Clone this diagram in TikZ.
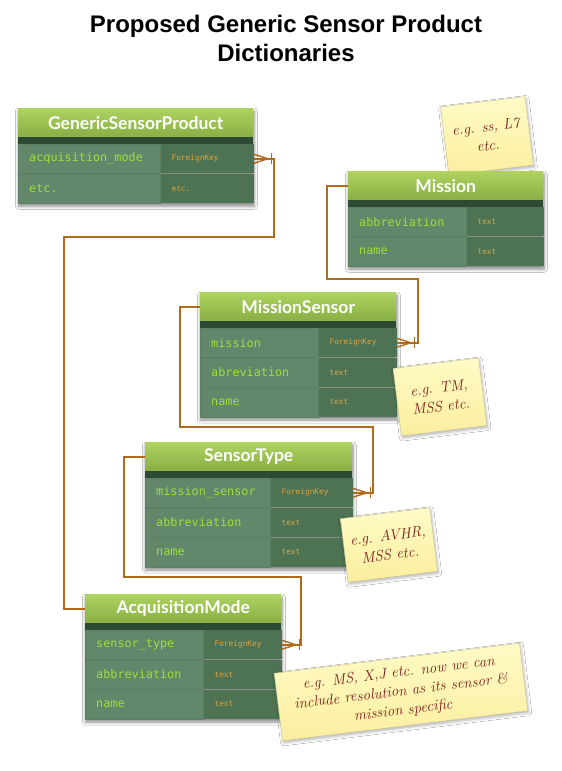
\documentclass[tikz,border=0pt]{standalone}
\usepackage{fontspec}
\setmonofont{DejaVu Sans Mono}
\newfontfamily\titlefont{Liberation Sans}
\newfontfamily\headfont{Lato}
\usetikzlibrary{shadows.blur,backgrounds}

\definecolor{hdtop}{HTML}{AED35F}
\definecolor{hdbot}{HTML}{88AE45}
\definecolor{band}{HTML}{2D4A34}
\definecolor{keyfill}{HTML}{62876B}
\definecolor{keyline}{HTML}{5C8065}
\definecolor{typefill}{HTML}{4D7353}
\definecolor{keytext}{HTML}{9CE03C}
\definecolor{typetext}{HTML}{D9A444}
\definecolor{link}{HTML}{B16B1D}
\definecolor{notetop}{HTML}{FFFBC6}
\definecolor{notebot}{HTML}{FAEE9E}
\definecolor{noteline}{HTML}{CFC79C}
\definecolor{notetext}{HTML}{7B1D1D}

\tikzset{
  tblhead/.style={anchor=north west, minimum height=29pt, inner sep=0pt,
    top color=hdtop, bottom color=hdbot, text=white,
    font=\headfont\bfseries\fontsize{17.5}{17.5}\selectfont},
  keycell/.style={anchor=north west, minimum height=29.3pt, inner xsep=11pt,
    inner ysep=0pt, fill=keyfill, draw=keyline, line width=0.4pt, text=keytext,
    align=left, font=\ttfamily\fontsize{11.8}{12}\selectfont},
  typecell/.style={anchor=north west, minimum height=29.3pt, inner xsep=11pt,
    inner ysep=0pt, fill=typefill, text=typetext,
    align=left, font=\ttfamily\fontsize{7.8}{8}\selectfont},
  conn/.style={draw=link, line width=1.7pt},
  tblshadow/.style={blur shadow={shadow xshift=0.5pt, shadow yshift=-3pt,
    shadow blur radius=3pt, shadow opacity=45}},
  note/.style={rotate=7, inner sep=0pt, top color=notetop, bottom color=notebot,
    draw=noteline, line width=0.5pt, text=notetext, align=center,
    font=\itshape\fontsize{15}{19}\selectfont,
    blur shadow={shadow xshift=1pt, shadow yshift=-2pt, shadow blur radius=3pt,
    shadow opacity=30}},
  crowfoot/.pic={
    \draw[conn, line width=1.4pt] (0,-4.5) -- (14,0) -- (0,4.5);
    \draw[conn, line width=1.4pt] (17.5,-5.5) -- (17.5,5.5);
  }
}

\begin{document}
\begin{tikzpicture}[x=1pt, y=-1pt]
  \useasboundingbox (0,0) rectangle (562,771);

  \node[font=\titlefont\bfseries\fontsize{24}{29}\selectfont, align=center]
    (title) at (286,38.5) {Proposed Generic Sensor Product\\Dictionaries};

  % GenericSensorProduct
  \node[tblhead, minimum width=235pt] (gsp) at (18,108) {GenericSensorProduct};
  \fill[band] (gsp.south west) rectangle ++(235,6.5);
  \node[keycell, text width=120pt] (gsp-k1) at ([yshift=-6.5pt]gsp.south west) {acquisition\_mode};
  \node[typecell, text width=71pt] (gsp-t1) at (gsp-k1.north east) {ForeignKey};
  \node[keycell, text width=120pt] (gsp-k2) at (gsp-k1.south west) {etc.};
  \node[typecell, text width=71pt] (gsp-t2) at (gsp-k2.north east) {etc.};

  % note behind Mission
  \node[note, minimum width=85pt, minimum height=69pt] (n-mission) at (487,136) {e.g. ss, L7\\etc.};

  % Mission
  \node[tblhead, minimum width=195pt] (mission) at (348,171) {Mission};
  \fill[band] (mission.south west) rectangle ++(195,6.5);
  \node[keycell, text width=96pt] (mission-k1) at ([yshift=-6.5pt]mission.south west) {abbreviation};
  \node[typecell, text width=55pt] (mission-t1) at (mission-k1.north east) {text};
  \node[keycell, text width=96pt] (mission-k2) at (mission-k1.south west) {name};
  \node[typecell, text width=55pt] (mission-t2) at (mission-k2.north east) {text};

  % MissionSensor
  \node[tblhead, minimum width=196pt] (ms) at (200,292) {MissionSensor};
  \fill[band] (ms.south west) rectangle ++(196,6.5);
  \node[keycell, text width=96pt] (ms-k1) at ([yshift=-6.5pt]ms.south west) {mission};
  \node[typecell, text width=56pt] (ms-t1) at (ms-k1.north east) {ForeignKey};
  \node[keycell, text width=96pt] (ms-k2) at (ms-k1.south west) {abreviation};
  \node[typecell, text width=56pt] (ms-t2) at (ms-k2.north east) {text};
  \node[keycell, text width=96pt] (ms-k3) at (ms-k2.south west) {name};
  \node[typecell, text width=56pt] (ms-t3) at (ms-k3.north east) {text};

  % SensorType
  \node[tblhead, minimum width=207pt] (st) at (145,442) {SensorType};
  \fill[band] (st.south west) rectangle ++(207,6.5);
  \node[keycell, text width=103pt] (st-k1) at ([yshift=-6.5pt]st.south west) {mission\_sensor};
  \node[typecell, text width=60pt] (st-t1) at (st-k1.north east) {ForeignKey};
  \node[keycell, text width=103pt] (st-k2) at (st-k1.south west) {abbreviation};
  \node[typecell, text width=60pt] (st-t2) at (st-k2.north east) {text};
  \node[keycell, text width=103pt] (st-k3) at (st-k2.south west) {name};
  \node[typecell, text width=60pt] (st-t3) at (st-k3.north east) {text};

  % AcquisitionMode
  \node[tblhead, minimum width=196pt] (acq) at (85,594) {AcquisitionMode};
  \fill[band] (acq.south west) rectangle ++(196,6.5);
  \node[keycell, text width=96pt] (acq-k1) at ([yshift=-6.5pt]acq.south west) {sensor\_type};
  \node[typecell, text width=56pt] (acq-t1) at (acq-k1.north east) {ForeignKey};
  \node[keycell, text width=96pt] (acq-k2) at (acq-k1.south west) {abbreviation};
  \node[typecell, text width=56pt] (acq-t2) at (acq-k2.north east) {text};
  \node[keycell, text width=96pt] (acq-k3) at (acq-k2.south west) {name};
  \node[typecell, text width=56pt] (acq-t3) at (acq-k3.north east) {text};

  % links
  \coordinate (j-gsp) at (64,237);
  \coordinate (j-mission) at (327,279);
  \coordinate (j-ms) at (180,427);
  \coordinate (j-st) at (124,577);
  \draw[conn] (acq.west) -| (j-gsp) -| ([xshift=20pt]gsp-t1.east) -- (gsp-t1.east);
  \draw[conn] (mission.west) -| (j-mission) -| ([xshift=21pt]ms-t1.east) -- (ms-t1.east);
  \draw[conn] (ms.west) -| (j-ms) -| ([xshift=20pt]st-t1.east) -- (st-t1.east);
  \draw[conn] (st.west) -| (j-st) -| ([xshift=19pt]acq-t1.east) -- (acq-t1.east);
  \pic at (gsp-t1.east) {crowfoot};
  \pic at (ms-t1.east) {crowfoot};
  \pic at (st-t1.east) {crowfoot};
  \pic at (acq-t1.east) {crowfoot};

  % notes
  \node[note, minimum width=86pt, minimum height=68pt] (n-ms) at (440,397) {e.g. TM,\\MSS etc.};
  \node[note, minimum width=90pt, minimum height=64pt] (n-st) at (389,545) {e.g. AVHR,\\MSS etc.};
  \node[note, minimum width=247pt, minimum height=68pt] (n-acq) at (401,692)
    {e.g. MS, X,J etc. now we can\\include resolution as its sensor \&\\mission specific};

  \begin{scope}[on background layer]
    \fill[white] (0,0) rectangle (562,771);
    \path[tblshadow] (gsp.north west) rectangle (gsp-t2.south east);
    \path[tblshadow] (mission.north west) rectangle (mission-t2.south east);
    \path[tblshadow] (ms.north west) rectangle (ms-t3.south east);
    \path[tblshadow] (st.north west) rectangle (st-t3.south east);
    \path[tblshadow] (acq.north west) rectangle (acq-t3.south east);
  \end{scope}
\end{tikzpicture}
\end{document}
